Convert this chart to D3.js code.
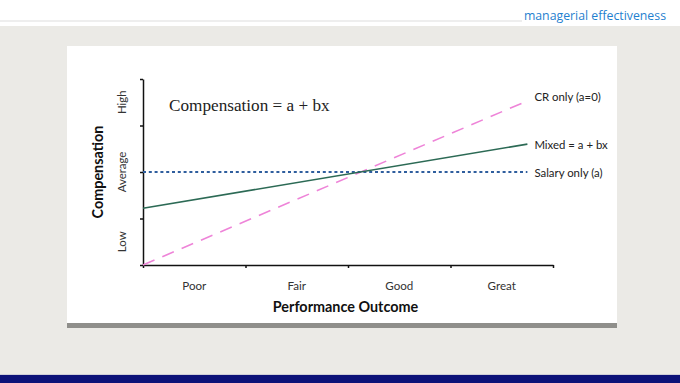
<!DOCTYPE html>
<html>
<head>
<meta charset="utf-8">
<script src="https://cdn.jsdelivr.net/npm/d3@7"></script>
<style>
  html, body { margin: 0; padding: 0; background: #ffffff; }
  svg { display: block; }
</style>
</head>
<body>
<svg id="chart" width="680" height="383"></svg>
<script>
// ---- data ----
const categories = ["Poor", "Fair", "Good", "Great"];
const compLevels = ["Low", "Average", "High"];
const compLevelValues = [0.5, 2, 3.5];
const performanceTicks = [0, 1, 2, 3, 4];
const compensationTicks = [0, 1, 2, 3, 4];
const xPoints = [0, 3.75];
const salaryOnly = [2, 2];
const mixed = [1.22, 2.6];
const crOnly = [0, 3.53];
const seriesNames = ["Salary only (a)", "Mixed = a + bx", "CR only (a=0)"];
const headerText = "managerial effectiveness";
const formulaText = "Compensation = a + bx";
const xTitle = "Performance Outcome";
const yTitle = "Compensation";

const svg = d3.select("#chart");

// ---- page frame ----
svg.append("rect").attr("x", 0).attr("y", 0).attr("width", 680).attr("height", 26).attr("fill", "#ffffff");
svg.append("line").attr("x1", 0).attr("x2", 522).attr("y1", 21).attr("y2", 21)
  .attr("stroke", "#e8e8e8").attr("stroke-width", 1.5);
svg.append("text").attr("x", 666).attr("y", 19.5).attr("text-anchor", "end")
  .attr("font-family", "'Open Sans', sans-serif").attr("font-size", 12.3)
  .attr("fill", "#1f7fcf").text(headerText);
svg.append("rect").attr("x", 0).attr("y", 26).attr("width", 680).attr("height", 349).attr("fill", "#ebeae6");
svg.append("rect").attr("x", 0).attr("y", 374).attr("width", 680).attr("height", 1).attr("fill", "#cfcfd8");
svg.append("rect").attr("x", 0).attr("y", 375).attr("width", 680).attr("height", 8).attr("fill", "#0c1278");

// panel
svg.append("rect").attr("x", 67).attr("y", 323).attr("width", 550).attr("height", 5).attr("fill", "#8f8f8b");
svg.append("rect").attr("x", 67).attr("y", 46).attr("width", 550).attr("height", 277).attr("fill", "#ffffff");

// ---- scales ----
const x = d3.scaleLinear().domain([0, 4]).range([143, 553]);
const xBand = d3.scaleBand().domain(categories).range([143, 553]);
const y = d3.scaleLinear().domain([0, 4]).range([265, 79]);

// ---- axes ----
const xAxis = svg.append("g").attr("transform", `translate(0,${y(0)})`)
  .call(d3.axisBottom(x).tickValues(performanceTicks).tickFormat("").tickSize(3).tickSizeOuter(0));
const yAxis = svg.append("g").attr("transform", `translate(${x(0)},0)`)
  .call(d3.axisLeft(y).tickValues(compensationTicks).tickFormat("").tickSize(3).tickSizeOuter(0));
[xAxis, yAxis].forEach(g => {
  g.selectAll("path, line").attr("stroke", "#111").attr("stroke-width", 1.5);
});

// category labels
const xLab = svg.append("g").attr("transform", `translate(0,${y(0)})`)
  .call(d3.axisBottom(xBand).tickSize(0).tickPadding(17));
xLab.select(".domain").remove();
xLab.selectAll("text").attr("font-family", "Lato, sans-serif").attr("font-size", 11.6).attr("fill", "#333");

// y level labels
svg.append("g").selectAll("text").data(compLevels).join("text")
  .attr("transform", (d, i) => `translate(126,${y(compLevelValues[i])}) rotate(-90)`)
  .attr("text-anchor", "middle")
  .attr("font-family", "Lato, sans-serif").attr("font-size", 11.4).attr("fill", "#333")
  .text(d => d);

// titles
svg.append("text").attr("transform", `translate(102.5,${y(2)}) rotate(-90)`)
  .attr("text-anchor", "middle").attr("font-family", "Lato, sans-serif")
  .attr("font-weight", "bold").attr("font-size", 14.4).attr("fill", "#111").text(yTitle);
svg.append("text").attr("x", 345.5).attr("y", 311.5).attr("text-anchor", "middle")
  .attr("font-family", "Lato, sans-serif").attr("font-weight", "bold")
  .attr("font-size", 14.4).attr("fill", "#111").text(xTitle);

// formula
svg.append("text").attr("x", 169).attr("y", 111)
  .attr("font-family", "'Liberation Serif', serif").attr("font-size", 17.2)
  .attr("fill", "#222").text(formulaText);

// ---- series lines ----
const line = d3.line().x(d => x(d[0])).y(d => y(d[1]));
const seriesData = [salaryOnly, mixed, crOnly].map(vals => xPoints.map((xp, i) => [xp, vals[i]]));
const styles = [
  { stroke: "#2f5e9e", width: 2, dash: "3,2.8" },
  { stroke: "#2c6a55", width: 1.6, dash: null },
  { stroke: "#ee84d8", width: 1.6, dash: "12.5,8.5" }
];
const order = [2, 0, 1];
order.forEach(i => {
  svg.append("path").attr("d", line(seriesData[i]))
    .attr("fill", "none").attr("stroke", styles[i].stroke)
    .attr("stroke-width", styles[i].width)
    .attr("stroke-dasharray", styles[i].dash);
});

// end labels
const labelDy = [4.5, 4.5, 0];
svg.append("g").selectAll("text").data(seriesNames).join("text")
  .attr("x", (d, i) => x(xPoints[1]) + 7)
  .attr("y", (d, i) => y(seriesData[i][1][1]) + labelDy[i])
  .attr("font-family", "Lato, sans-serif").attr("font-size", 11.4).attr("fill", "#222")
  .text(d => d);
</script>
</body>
</html>
